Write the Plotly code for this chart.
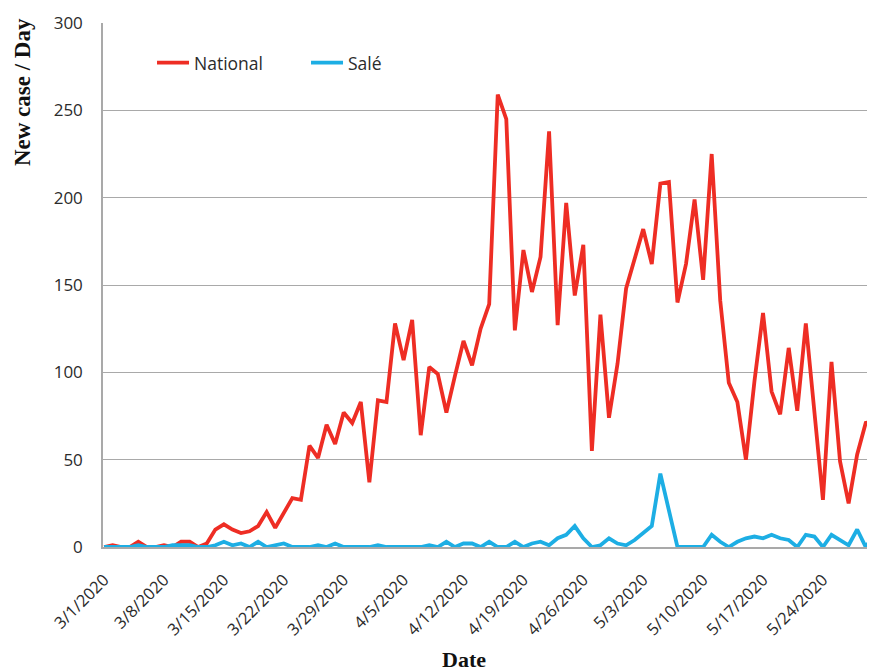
import pandas as pd
import plotly.graph_objects as go

start_date = "2020-03-01"
n_days = 91
dates = pd.date_range(start_date, periods=n_days, freq="D")

national = [0, 1, 0, 0, 3, 0, 0, 1, 0, 3, 3, 0, 2,
            10, 13, 10, 8, 9, 12, 20, 11, 20, 28, 27, 58, 51, 70, 59, 77, 71, 83, 37, 84, 83,
            128, 107, 130, 64, 103, 99, 77, 98, 118, 104, 125, 139, 259, 245,
            124, 170, 146, 166, 238, 127, 197, 144, 173, 55, 133, 74, 105, 148, 165,
            182, 162, 208, 209, 140, 162, 199, 153, 225, 141, 94, 83, 50, 95, 134,
            89, 76, 114, 78, 128, 75, 27, 106, 49, 25, 53, 71, 72]

sale = [0, 0, 0, 0, 1, 0, 0, 0, 1, 1, 1, 0, 0,
        1, 3, 1, 2, 0, 3, 0, 1, 2, 0, 0, 0, 1, 0, 2, 0, 0, 0, 0, 1, 0,
        0, 0, 0, 0, 1, 0, 3, 0, 2, 2, 0, 3,
        0, 0, 3, 0, 2, 3, 1, 5, 7, 12, 5, 0, 1, 5, 2, 1, 4,
        8, 12, 42, 20, 0, 0, 0, 0, 7, 3, 0, 3, 5, 6, 5,
        7, 5, 4, 0, 7, 6, 0, 7, 4, 1, 10, 0, 7]

tick_dates = ["2020-03-01", "2020-03-08", "2020-03-15", "2020-03-22", "2020-03-29",
              "2020-04-05", "2020-04-12", "2020-04-19", "2020-04-26", "2020-05-03",
              "2020-05-10", "2020-05-17", "2020-05-24"]
tick_labels = ["3/1/2020", "3/8/2020", "3/15/2020", "3/22/2020", "3/29/2020",
               "4/5/2020", "4/12/2020", "4/19/2020", "4/26/2020", "5/3/2020",
               "5/10/2020", "5/17/2020", "5/24/2020"]
y_ticks = [0, 50, 100, 150, 200, 250, 300]

RED = "#EE2D24"
BLUE = "#1DAEE4"
GRID = "#A9A9A9"
TXT = "#2b2b2b"

fig = go.Figure()
fig.add_trace(go.Scatter(x=dates, y=national, mode="lines", name="National",
                         line=dict(color=RED, width=3.8)))
fig.add_trace(go.Scatter(x=dates, y=sale, mode="lines", name="Salé",
                         line=dict(color=BLUE, width=3.8)))

fig.update_layout(
    width=867, height=663,
    margin=dict(l=95, r=0, t=15, b=124, autoexpand=False),
    plot_bgcolor="white", paper_bgcolor="white",
    font=dict(family="Open Sans", size=17, color=TXT),
    showlegend=True,
    legend=dict(orientation="h", x=0.0635, y=0.924, xanchor="left", yanchor="middle",
                bgcolor="rgba(0,0,0,0)", font=dict(size=17.5, color=TXT),
                entrywidth=107, itemwidth=32),
    xaxis=dict(
        type="date", automargin=False,
        range=["2020-02-29 21:00", "2020-05-30 02:00"],
        tickvals=tick_dates, ticktext=tick_labels, tickangle=-45,
        showgrid=False, showline=True, linecolor=GRID, linewidth=1.5,
        ticks="", tickfont=dict(size=16.5, color=TXT), ticklabelstandoff=15,
        zeroline=False,
    ),
    yaxis=dict(
        range=[0, 300], tickvals=y_ticks, automargin=False,
        showgrid=True, gridcolor=GRID, gridwidth=1.3,
        showline=True, linecolor=GRID, linewidth=1.5,
        ticks="", tickfont=dict(size=17, color=TXT), ticklabelstandoff=15,
        zeroline=False,
    ),
    annotations=[
        dict(text="<b>New case / Day</b>", xref="paper", yref="paper",
             x=-0.105, y=0.868, xanchor="center", yanchor="middle", textangle=-90,
             showarrow=False, font=dict(family="Liberation Serif", size=23, color="#111")),
        dict(text="<b>Date</b>", xref="paper", yref="paper",
             x=0.4676, y=-0.2156, xanchor="center", yanchor="middle",
             showarrow=False, font=dict(family="Liberation Serif", size=22, color="#111")),
    ],
)

fig.write_html("out.html")
